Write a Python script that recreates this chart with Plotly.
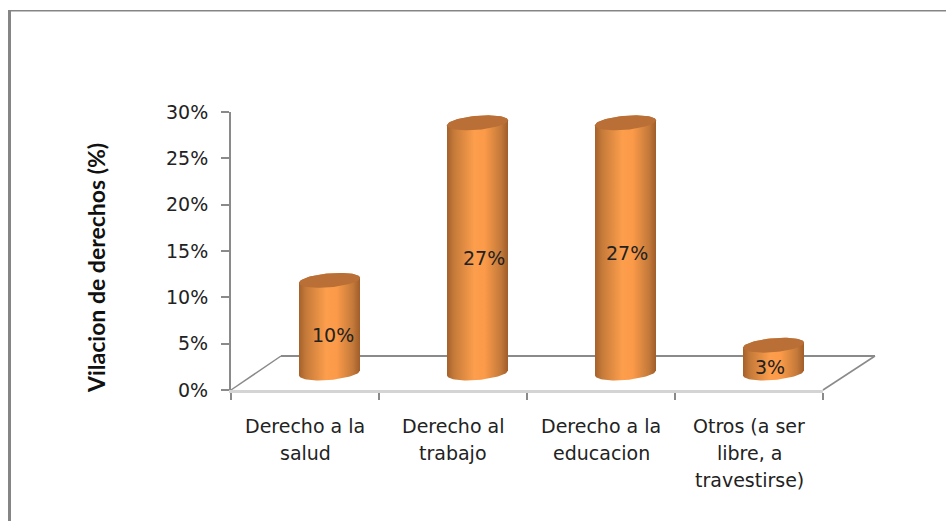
import numpy as np
import plotly.graph_objects as go

categories = ["Derecho a la\nsalud", "Derecho al\ntrabajo", "Derecho a la\neducacion", "Otros (a ser\nlibre, a\ntravestirse)"]
values = [0.10, 0.27, 0.27, 0.03]
value_labels = ["10%", "27%", "27%", "3%"]
y_ticks = [0, 0.05, 0.10, 0.15, 0.20, 0.25, 0.30]
y_tick_labels = ["0%", "5%", "10%", "15%", "20%", "25%", "30%"]
y_title = "Vilacion de derechos (%)"

# layout constants (pixels)
W, H = 946, 521
L, R, T, B = 231, 823, 112, 390
PX_X = (R - L) / 4
PX_Y = (B - T) / 0.30
DEPTH_X, DEPTH_Y = 24.5, 17
A, E, TILT = 30.5, 7.0, 2.5
LABEL_DX = [3, 6, 1, -4]
LABEL_DY = [8, 10.5, 5.5, 8]

TEXT = "#222222"
FONT = "DejaVu Sans"
GRAY = "#8a8a8a"
scale = [[0, "#a5612b"], [0.12, "#c67b3a"], [0.45, "#fd9e4c"], [0.62, "#fb9a49"], [0.88, "#c47a3a"], [1, "#a05d29"]]


def px(x, y):
    return (x - L) / (R - L), (B - y) / (B - T)


def ellipse_pts(i, v, t):
    cx = i + DEPTH_X / PX_X
    cy = v + DEPTH_Y / PX_Y
    xs = cx + A * np.cos(t) / PX_X
    ys = cy + (E * np.sin(t) + TILT * np.cos(t)) / PX_Y
    return xs, ys


fig = go.Figure()
for i, v in enumerate(values):
    xb, yb = ellipse_pts(i, 0, np.linspace(np.pi, 2 * np.pi, 40))
    xt, yt = ellipse_pts(i, v, np.linspace(0, np.pi, 40))
    fig.add_trace(go.Scatter(
        x=np.r_[xb, xt], y=np.r_[yb, yt],
        mode="lines", line=dict(width=0), hoverinfo="skip", showlegend=False, fill="toself",
        fillgradient=dict(type="horizontal", colorscale=scale)))
    xe, ye = ellipse_pts(i, v, np.linspace(0, 2 * np.pi, 80))
    fig.add_trace(go.Scatter(x=xe, y=ye, mode="lines", line=dict(width=0), hoverinfo="skip",
                             showlegend=False, fill="toself", fillcolor="#b96f35"))

shapes = []
for a, b, c, w in [((L, B), (L + 50, 356), GRAY, 1.5), ((L + 50, 356), (875, 356), GRAY, 2),
                   ((R, B), (875, 356), GRAY, 1.5)]:
    (x0, y0), (x1, y1) = px(*a), px(*b)
    shapes.append(dict(type="line", xref="paper", yref="paper", x0=x0, y0=y0, x1=x1, y1=y1,
                       line=dict(color=c, width=w), layer="below"))
# outer frame
for (x0, y0, x1, y1) in [(8, 10, 11, H), (8, 10, W, 11.5)]:
    (a0, b0), (a1, b1) = px(x0, y0), px(x1, y1)
    shapes.append(dict(type="rect", xref="paper", yref="paper", x0=a0, x1=a1, y0=b0, y1=b1,
                       fillcolor="#858585", line_width=0))

ann = []
for i, c in enumerate(categories):
    for j, line in enumerate(c.split("\n")):
        ann.append(dict(x=i, xref="x", y=px(0, 426 + j * 27)[1], yref="paper", text=line, showarrow=False,
                        xanchor="center", yanchor="middle", font=dict(family=FONT, size=19, color=TEXT)))
for i, v in enumerate(values):
    ann.append(dict(x=i + DEPTH_X / PX_X, y=v / 2 + DEPTH_Y / PX_Y, xref="x", yref="y", text=value_labels[i],
                    showarrow=False, xshift=LABEL_DX[i], yshift=-LABEL_DY[i],
                    font=dict(family=FONT, size=19, color=TEXT)))
xt, yt = px(96, 268)
ann.append(dict(x=xt, y=yt, xref="paper", yref="paper", text=f"<b>{y_title}</b>", textangle=-90, showarrow=False,
                xanchor="center", yanchor="middle", font=dict(family="Lato", size=23, color="#111111")))

fig.update_layout(
    width=W, height=H, margin=dict(l=L, r=W - R, t=T, b=H - B, pad=0),
    paper_bgcolor="#ffffff", plot_bgcolor="rgba(0,0,0,0)", showlegend=False,
    shapes=shapes, annotations=ann,
    xaxis=dict(range=[-0.5, 3.5], tickvals=[-0.5, 0.5, 1.5, 2.5, 3.5], ticktext=[""] * 5, ticks="outside",
               ticklen=7, tickwidth=2, tickcolor=GRAY, showgrid=False, zeroline=False,
               showline=True, linecolor="#d4d4d4", linewidth=2.5),
    yaxis=dict(range=[0, 0.30], tickvals=y_ticks, ticktext=y_tick_labels, ticks="outside", ticklen=8, tickwidth=2,
               tickcolor=GRAY, showgrid=False, zeroline=False, showline=True, linecolor=GRAY, linewidth=2,
               ticklabelstandoff=9, tickfont=dict(family=FONT, size=19, color=TEXT)),
)
fig.write_html("out.html", config=dict(displayModeBar=False),
               post_script="document.body.style.margin='0';document.documentElement.style.overflow='hidden';")
